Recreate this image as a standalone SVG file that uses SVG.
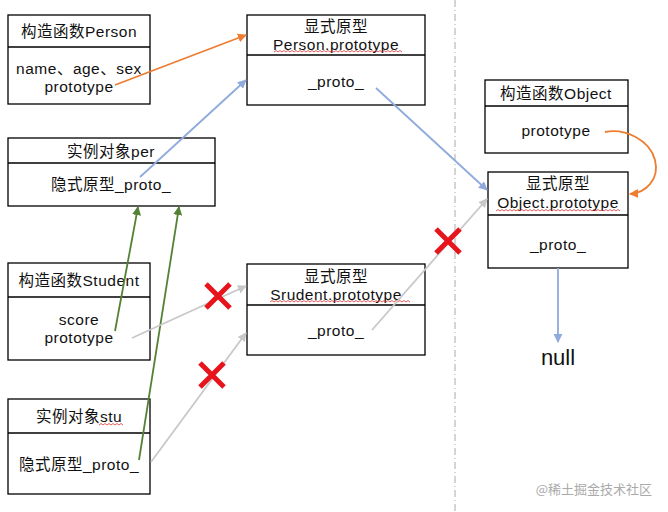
<svg xmlns="http://www.w3.org/2000/svg" width="668" height="512" viewBox="0 0 668 512">
<style>
.box{fill:#fff;stroke:#000;stroke-width:1.3}
.t{font-family:"Liberation Sans","Noto Sans CJK SC",sans-serif;font-size:15.5px;letter-spacing:0.5px;fill:#111;text-anchor:middle}
.c{fill:none;stroke-width:1.8}
.x{stroke:#e8141b;stroke-width:5;fill:none}
.wv{fill:none;stroke:#d33;stroke-width:0.8}
</style>
<defs>
<marker id="ao" viewBox="0 0 10 10" refX="9" refY="5" markerWidth="5" markerHeight="5" orient="auto"><path d="M0,0L10,5L0,10z" fill="#ed7d31"/></marker>
<marker id="ab" viewBox="0 0 10 10" refX="9" refY="5" markerWidth="5" markerHeight="5" orient="auto"><path d="M0,0L10,5L0,10z" fill="#8faadc"/></marker>
<marker id="ag" viewBox="0 0 10 10" refX="9" refY="5" markerWidth="5" markerHeight="5" orient="auto"><path d="M0,0L10,5L0,10z" fill="#548235"/></marker>
<marker id="ay" viewBox="0 0 10 10" refX="9" refY="5" markerWidth="5" markerHeight="5" orient="auto"><path d="M0,0L10,5L0,10z" fill="#c8c8c8"/></marker>
</defs>
<rect width="668" height="512" fill="#fff"/>
<line x1="455" y1="0" x2="455" y2="512" stroke="#aaa" stroke-width="1" stroke-dasharray="7,3,1,3"/>

<g id="person-ctor">
<rect class="box" x="8" y="15" width="142" height="89"/>
<line class="box" x1="8" y1="47" x2="150" y2="47"/>
<text class="t" x="79" y="37">构造函数Person</text>
<text class="t" x="79" y="74">name、age、sex</text>
<text class="t" x="79" y="92">prototype</text>
</g>
<g id="person-proto">
<rect class="box" x="247" y="15" width="178" height="90"/>
<line class="box" x1="247" y1="55" x2="425" y2="55"/>
<text class="t" x="336" y="32">显式原型</text>
<text class="t" x="336" y="50">Person.prototype</text>
<path class="wv" d="M274,52 l2,-1.5 l2,1.5 l2,-1.5 l2,1.5 l2,-1.5 l2,1.5 l2,-1.5 l2,1.5 l2,-1.5 l2,1.5 l2,-1.5 l2,1.5 l2,-1.5 l2,1.5 l2,-1.5 l2,1.5 l2,-1.5 l2,1.5 l2,-1.5 l2,1.5 l2,-1.5 l2,1.5 l2,-1.5 l2,1.5 l2,-1.5 l2,1.5 l2,-1.5 l2,1.5 l2,-1.5 l2,1.5 l2,-1.5 l2,1.5 l2,-1.5 l2,1.5 l2,-1.5 l2,1.5 l2,-1.5 l2,1.5 l2,-1.5 l2,1.5 l2,-1.5 l2,1.5 l2,-1.5 l2,1.5 l2,-1.5 l2,1.5 l2,-1.5 l2,1.5 l2,-1.5 l2,1.5 l2,-1.5 l2,1.5 l2,-1.5 l2,1.5 l2,-1.5 l2,1.5 l2,-1.5 l2,1.5 l2,-1.5 l2,1.5 l2,-1.5 l2,1.5 l2,-1.5 l2,1.5"/>
<text class="t" x="336" y="87">_proto_</text>
</g>
<g id="per">
<rect class="box" x="8" y="138" width="207" height="68"/>
<line class="box" x1="8" y1="163" x2="215" y2="163"/>
<text class="t" x="111" y="157">实例对象per</text>
<text class="t" x="111" y="190">隐式原型_proto_</text>
</g>
<g id="object-ctor">
<rect class="box" x="485" y="80" width="143" height="73"/>
<line class="box" x1="485" y1="106" x2="628" y2="106"/>
<text class="t" x="556" y="99">构造函数Object</text>
<text class="t" x="556" y="136">prototype</text>
</g>
<g id="object-proto">
<rect class="box" x="488" y="172" width="140" height="96"/>
<line class="box" x1="488" y1="215" x2="628" y2="215"/>
<text class="t" x="558" y="189">显式原型</text>
<text class="t" x="558" y="208">Object.prototype</text>
<path class="wv" d="M496,211 l2,-1.5 l2,1.5 l2,-1.5 l2,1.5 l2,-1.5 l2,1.5 l2,-1.5 l2,1.5 l2,-1.5 l2,1.5 l2,-1.5 l2,1.5 l2,-1.5 l2,1.5 l2,-1.5 l2,1.5 l2,-1.5 l2,1.5 l2,-1.5 l2,1.5 l2,-1.5 l2,1.5 l2,-1.5 l2,1.5 l2,-1.5 l2,1.5 l2,-1.5 l2,1.5 l2,-1.5 l2,1.5 l2,-1.5 l2,1.5 l2,-1.5 l2,1.5 l2,-1.5 l2,1.5 l2,-1.5 l2,1.5 l2,-1.5 l2,1.5 l2,-1.5 l2,1.5 l2,-1.5 l2,1.5 l2,-1.5 l2,1.5 l2,-1.5 l2,1.5 l2,-1.5 l2,1.5 l2,-1.5 l2,1.5 l2,-1.5 l2,1.5 l2,-1.5 l2,1.5 l2,-1.5 l2,1.5 l2,-1.5 l2,1.5 l2,-1.5 l2,1.5"/>
<text class="t" x="558" y="250">_proto_</text>
</g>
<g id="null">
<text class="t" x="558" y="365" style="font-size:22px;letter-spacing:0">null</text>
</g>
<g id="student-ctor">
<rect class="box" x="8" y="263" width="142" height="97"/>
<line class="box" x1="8" y1="297" x2="150" y2="297"/>
<text class="t" x="79" y="286">构造函数Student</text>
<text class="t" x="79" y="325">score</text>
<text class="t" x="79" y="343">prototype</text>
</g>
<g id="student-proto">
<rect class="box" x="247" y="264" width="178" height="91"/>
<line class="box" x1="247" y1="305" x2="425" y2="305"/>
<text class="t" x="336" y="282">显式原型</text>
<text class="t" x="336" y="300">Srudent.prototype</text>
<path class="wv" d="M270,302 l2,-1.5 l2,1.5 l2,-1.5 l2,1.5 l2,-1.5 l2,1.5 l2,-1.5 l2,1.5 l2,-1.5 l2,1.5 l2,-1.5 l2,1.5 l2,-1.5 l2,1.5 l2,-1.5 l2,1.5 l2,-1.5 l2,1.5 l2,-1.5 l2,1.5 l2,-1.5 l2,1.5 l2,-1.5 l2,1.5 l2,-1.5 l2,1.5 l2,-1.5 l2,1.5 l2,-1.5 l2,1.5 l2,-1.5 l2,1.5 l2,-1.5 l2,1.5 l2,-1.5 l2,1.5 l2,-1.5 l2,1.5 l2,-1.5 l2,1.5 l2,-1.5 l2,1.5 l2,-1.5 l2,1.5 l2,-1.5 l2,1.5 l2,-1.5 l2,1.5 l2,-1.5 l2,1.5 l2,-1.5 l2,1.5 l2,-1.5 l2,1.5 l2,-1.5 l2,1.5 l2,-1.5 l2,1.5 l2,-1.5 l2,1.5 l2,-1.5 l2,1.5 l2,-1.5 l2,1.5 l2,-1.5 l2,1.5 l2,-1.5 l2,1.5 l2,-1.5 l2,1.5"/>
<text class="t" x="336" y="336">_proto_</text>
</g>
<g id="stu">
<rect class="box" x="8" y="399" width="142" height="95"/>
<line class="box" x1="8" y1="433" x2="150" y2="433"/>
<text class="t" x="79" y="422">实例对象stu</text>
<path class="wv" d="M99,425 l2,-1.5 l2,1.5 l2,-1.5 l2,1.5 l2,-1.5 l2,1.5 l2,-1.5 l2,1.5 l2,-1.5 l2,1.5 l2,-1.5 l2,1.5"/>
<text class="t" x="79" y="470">隐式原型_proto_</text>
</g>

<g id="connectors">
<line class="c" x1="115" y1="85" x2="246" y2="35" stroke="#ed7d31" marker-end="url(#ao)"/>
<line class="c" x1="140" y1="177" x2="246" y2="80" stroke="#8faadc" marker-end="url(#ab)"/>
<line class="c" x1="376" y1="88" x2="487" y2="190" stroke="#8faadc" marker-end="url(#ab)"/>
<path class="c" d="M605,132 C625,128 650,140 655,160 C660,180 645,193 630,194" stroke="#ed7d31" marker-end="url(#ao)"/>
<line class="c" x1="558" y1="268" x2="558" y2="342" stroke="#8faadc" marker-end="url(#ab)"/>
<line class="c" x1="115" y1="331" x2="138" y2="207" stroke="#548235" stroke-width="2.6" marker-end="url(#ag)"/>
<line class="c" x1="139" y1="460" x2="179" y2="207" stroke="#548235" stroke-width="2.6" marker-end="url(#ag)"/>
<line class="c" x1="132" y1="338" x2="246" y2="286" stroke="#c8c8c8" marker-end="url(#ay)"/>
<line class="c" x1="151" y1="462" x2="246" y2="333" stroke="#c8c8c8" marker-end="url(#ay)"/>
<line class="c" x1="372" y1="330" x2="487" y2="199" stroke="#c8c8c8" marker-end="url(#ay)"/>
</g>
<g id="crosses">
<path class="x" d="M206,284L230,308M230,284L206,308"/>
<path class="x" d="M200,363L224,387M224,363L200,387"/>
<path class="x" d="M436,229L460,253M460,229L436,253"/>
</g>
<text x="652" y="494" style="font-family:'Noto Sans CJK SC',sans-serif;font-size:13px;fill:#aaa;text-anchor:end">@稀土掘金技术社区</text>
</svg>
